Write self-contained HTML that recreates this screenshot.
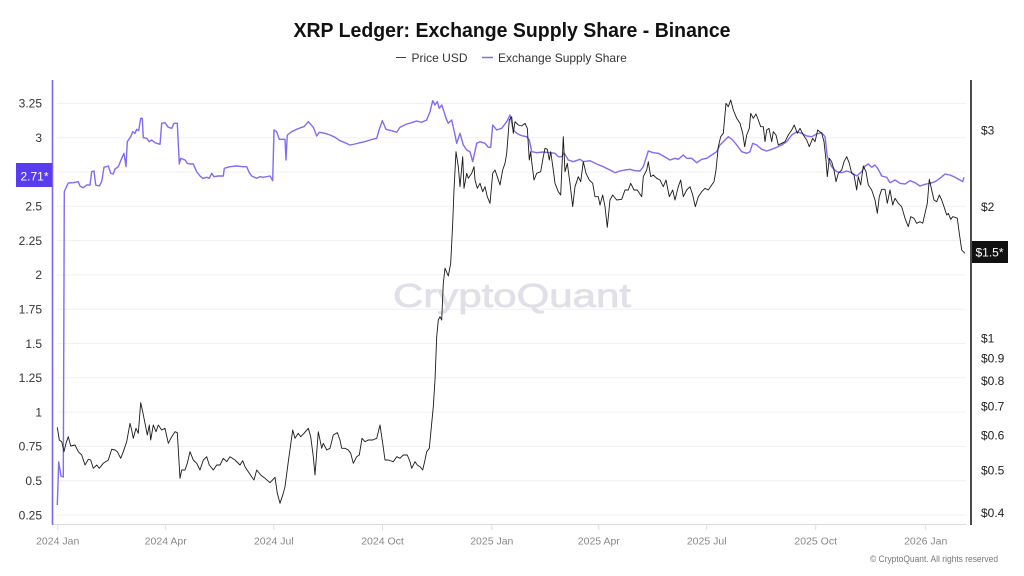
<!DOCTYPE html>
<html>
<head>
<meta charset="utf-8">
<style>
html,body{margin:0;padding:0;background:#fff;}
svg{display:block;font-family:"Liberation Sans",sans-serif;}
</style>
</head>
<body>
<svg width="1024" height="576" viewBox="0 0 1024 576" xmlns="http://www.w3.org/2000/svg">
<rect width="1024" height="576" fill="#fff"/>

<!-- title -->
<text x="512" y="37" text-anchor="middle" font-weight="bold" font-size="20" fill="#111" textLength="437" lengthAdjust="spacingAndGlyphs">XRP Ledger: Exchange Supply Share - Binance</text>

<!-- legend -->
<line x1="396" y1="57.5" x2="406" y2="57.5" stroke="#444" stroke-width="1"/>
<text x="411.5" y="62" font-size="12" fill="#333">Price USD</text>
<line x1="482" y1="57.5" x2="493" y2="57.5" stroke="#7f6df2" stroke-width="1.5"/>
<text x="498" y="62" font-size="12" fill="#333">Exchange Supply Share</text>

<!-- gridlines -->
<g stroke="#f1f1f3" stroke-width="1">
<line x1="57" y1="103.4" x2="966" y2="103.4"/>
<line x1="57" y1="137.7" x2="966" y2="137.7"/>
<line x1="57" y1="172" x2="966" y2="172"/>
<line x1="57" y1="206.3" x2="966" y2="206.3"/>
<line x1="57" y1="240.6" x2="966" y2="240.6"/>
<line x1="57" y1="274.9" x2="966" y2="274.9"/>
<line x1="57" y1="309.2" x2="966" y2="309.2"/>
<line x1="57" y1="343.5" x2="966" y2="343.5"/>
<line x1="57" y1="377.8" x2="966" y2="377.8"/>
<line x1="57" y1="412.1" x2="966" y2="412.1"/>
<line x1="57" y1="446.4" x2="966" y2="446.4"/>
<line x1="57" y1="480.7" x2="966" y2="480.7"/>
<line x1="57" y1="515" x2="966" y2="515"/>
</g>

<!-- watermark -->
<text x="512" y="307" text-anchor="middle" font-size="33" fill="#e0e0e8" stroke="#e0e0e8" stroke-width="0.7" textLength="238" lengthAdjust="spacingAndGlyphs">CryptoQuant</text>

<!-- x axis -->
<line x1="53" y1="524.5" x2="966" y2="524.5" stroke="#dcdcdc" stroke-width="1"/>
<g stroke="#dcdcdc" stroke-width="1">
<line x1="57.7" y1="524.5" x2="57.7" y2="530"/>
<line x1="165.7" y1="524.5" x2="165.7" y2="530"/>
<line x1="273.8" y1="524.5" x2="273.8" y2="530"/>
<line x1="382.5" y1="524.5" x2="382.5" y2="530"/>
<line x1="491.8" y1="524.5" x2="491.8" y2="530"/>
<line x1="598.8" y1="524.5" x2="598.8" y2="530"/>
<line x1="706.7" y1="524.5" x2="706.7" y2="530"/>
<line x1="815.7" y1="524.5" x2="815.7" y2="530"/>
<line x1="925.7" y1="524.5" x2="925.7" y2="530"/>
</g>
<g font-size="10.5" fill="#888" text-anchor="middle">
<text x="57.7" y="544.5">2024 Jan</text>
<text x="165.7" y="544.5">2024 Apr</text>
<text x="273.8" y="544.5">2024 Jul</text>
<text x="382.5" y="544.5">2024 Oct</text>
<text x="491.8" y="544.5">2025 Jan</text>
<text x="598.8" y="544.5">2025 Apr</text>
<text x="706.7" y="544.5">2025 Jul</text>
<text x="815.7" y="544.5">2025 Oct</text>
<text x="925.7" y="544.5">2026 Jan</text>
</g>

<!-- left axis -->
<line x1="52.5" y1="80" x2="52.5" y2="525" stroke="#7b68ee" stroke-width="1.6"/>
<g font-size="12" fill="#333" text-anchor="end">
<text x="42" y="107.7">3.25</text>
<text x="42" y="142">3</text>
<text x="42" y="210.6">2.5</text>
<text x="42" y="244.9">2.25</text>
<text x="42" y="279.2">2</text>
<text x="42" y="313.5">1.75</text>
<text x="42" y="347.8">1.5</text>
<text x="42" y="382.1">1.25</text>
<text x="42" y="416.4">1</text>
<text x="42" y="450.7">0.75</text>
<text x="42" y="485">0.5</text>
<text x="42" y="519.3">0.25</text>
</g>
<rect x="16" y="163" width="36" height="24" fill="#5a3cf0"/>
<text x="48.5" y="180.5" font-size="12" fill="#fff" text-anchor="end">2.71*</text>

<!-- right axis -->
<line x1="971" y1="80" x2="971" y2="525" stroke="#111" stroke-width="1.5"/>
<g font-size="12" fill="#222">
<text x="981" y="134.4">$3</text>
<text x="981" y="211">$2</text>
<text x="981" y="342.7">$1</text>
<text x="981" y="362.7">$0.9</text>
<text x="981" y="385.1">$0.8</text>
<text x="981" y="410.5">$0.7</text>
<text x="981" y="439.7">$0.6</text>
<text x="981" y="474.4">$0.5</text>
<text x="981" y="516.8">$0.4</text>
</g>
<rect x="972" y="241" width="36" height="22" fill="#111"/>
<text x="975.5" y="256.5" font-size="12" fill="#fff">$1.5*</text>

<!-- exchange supply share -->
<polyline fill="none" stroke="#7f6df2" stroke-width="1.4" stroke-linejoin="round" points="57.3,505 58.7,462 61,476 63.3,477 64.3,191.7 65,190 68.3,183 73.3,182.7 78.3,181.7 80,186 83.3,187.7 86.7,185 90,185 91.7,171.7 94,171 95.7,185 99.3,186 101.7,181.7 104,167.3 108.3,166 110.7,173.3 113.3,174 115,169 118.3,166.7 120.7,160.7 124,153.3 126,166.7 127.3,141.7 130.7,136.7 132.7,131.7 135,133.3 136.7,129.3 138.7,130.7 140.7,118.3 142.3,118.3 143.3,137.7 146.7,138.3 149.3,141.7 151.7,140 155,142.7 160,144.3 161.7,123.3 165,122.7 168.3,127.3 171.7,128.3 174,123.3 177.3,123.3 179.3,164 180.7,158.3 185,160 187.3,163.3 190,164 193.3,164 196.7,171.7 200,176 202.7,178.3 206.7,177.3 209.3,178.3 211.7,173.3 214,176.7 218.3,176 223.3,176 224.3,168.3 230,166.7 236.7,166 243.3,166.7 246.7,166.7 249.3,172.7 251.7,176 256.7,178.3 260,176.7 263.3,177.3 270,176 272.7,180.7 274,130 276.7,131.7 279.3,139.3 283.3,139.3 285,139.3 286,160 287.3,135 291.7,131.7 296.7,129.3 301.7,127.3 304,126.7 308.3,121.7 313.3,127.3 316.7,136 319.3,132.3 325,133.3 330,135 335,137.3 340,140.7 345,142.7 350,145 355,144 360,142.7 365,141.7 370,140 376.7,138.3 379.3,129.3 382.3,120.7 386,129.3 391.7,130.7 396.7,132.3 400,127.3 406.7,124 411.7,122.7 416.7,121 421.7,122.3 426.7,120 430,111.7 432.7,100.7 435,105 437.3,101.7 439.3,108.3 441.7,105 444,111.7 446,118.3 448.3,123.3 451.7,120 455,135 456.7,143.3 460,133.3 463.3,145 466.7,150 470,151.7 472.7,161.7 476.7,143.3 480,141.7 485,143.3 488.3,147.3 490.7,147.3 492.7,125 496.7,130 501.7,128.3 506.7,121.7 510,115 513.3,130 516.7,133.3 521.7,135.7 526.7,136.7 529.3,140 531.7,151.7 536.7,152.7 543.3,152 550,152.7 555,153.3 558.3,156.7 561.7,156.7 564,152.7 568.3,160 573.3,161.7 580,159.3 583.3,161.7 590,160.7 596.7,164 603.3,166.7 610,170 615,172.7 620,171 625,170 630,169.3 635,170.7 640,171 643.3,166.7 646,158.3 648.3,151 653.3,152.7 658.3,153.3 663.3,156 670,160 675,158.3 678.3,159.3 683.3,155 686.7,158.3 691.7,158.3 696.7,162.7 701.7,159.3 706.7,158.3 711.7,155 716.7,151.7 720,145 725,140 728.3,136.7 732.7,140 736.7,145 741.7,151.7 746.7,153.3 750,151.7 752.7,143.3 756.7,145 761.7,149.3 766.7,151 771.7,149.3 776.7,147.3 781.7,145 786.7,141.7 791.7,135 796.7,131.7 801.7,133.3 806.7,136 811.7,136.7 816.7,134 821.7,132.7 825,136.7 827.3,156.7 831.7,166.7 836.7,171.7 841.7,172.7 846.7,171 851.7,172.7 856.7,176 861.7,171.7 865,166 868.3,164 871.7,167.3 875,165 878.3,169.3 881.7,176 886.7,177.3 890,182.7 895,180 900,183.3 905,184 910,180.7 915,182.7 920,186 925,184.3 930,183.3 935,181.7 940,178.3 945,174 950,175 955,177.3 960,180 962.7,181.7 964,177.3"/>

<!-- price -->
<polyline fill="none" stroke="#1a1a1a" stroke-width="0.9" stroke-linejoin="round" points="57.3,427.3 59.3,440 61.7,441.7 64,451.7 66,443.3 68.3,436.7 70.7,446 75,445 78.3,451.7 81.7,455 85,465 88.3,459.3 90.7,460 93.3,468.3 96.7,465 99.3,468.3 103.3,463.3 108.3,460 111.7,449.3 115,450 117.3,451.7 120.7,458.3 123.3,451.7 126.7,441.7 130,423.3 131.7,430 133.3,438.3 136,428.3 138.3,433.3 140.7,402.7 142.7,411.7 145,423.3 147.3,435 149.3,425 150.7,440 153.3,425 156,431.7 158.3,425 161.7,430 165,428.3 168.3,443.3 171.7,436.7 175,431.7 177.3,432.7 180,478.3 181.7,470 185,470 187.3,463.3 190,451.7 193.3,460 196.7,463.3 200,470 203.3,460 206.7,456.7 209.3,465 213.3,470 216.7,465 220,465 223.3,458.3 226.7,461.7 230,456.7 235,460 240,465 242.7,460.7 245,466.7 248.3,471.7 251.7,476.7 254,480 256.7,470 260.7,475 265,478.3 270,482.7 275,477.3 277.3,493.3 280,503.3 283.3,493.3 285,486.7 288.3,461.7 292.7,430 295,438.3 298.3,433.3 300.7,436.7 304,433.3 308.3,428.3 310.7,436.7 313.3,456.7 315,475 318.3,431.7 321.7,448.3 323.3,443.3 326.7,450 330,448.3 333.3,435 337.3,432.7 340,440 341.7,448.3 345,448.3 348.3,450 350.7,453.3 353.3,463.3 356.7,456.7 359.3,455 362,438.3 365,441.7 368.3,440 372.7,440 376.7,438.3 380,425 382.7,443.3 385,460 388.3,460 393.3,461.7 396.7,456.7 400,458.3 403.3,455 407.3,455 410,461.7 411.7,468.3 415,461.7 417.3,465 420,466.7 422.7,470 425,460 426.7,451.7 429.3,448.3 431.7,423.3 433.3,406.7 435,380 436.7,336.7 438.3,320 440,316.7 441.7,320 443.3,283.3 445,268.3 448.3,276 450.7,263.3 452.7,223.3 454,190 456,151.7 458.3,166.7 460,186.7 462.7,156.7 464,188.3 466.7,173.3 468.3,178.3 471.7,173.3 474,166.7 475,180 477.3,188.3 480,183.3 482.7,191.7 485,186.7 487.3,196.7 490,203.3 492.7,173.3 495,170 497.3,176.7 500,185 502.7,170 505,163.3 506.7,153.3 509.3,120 511.7,116.7 513.3,133.3 515,121.7 518.3,125 521.7,126 525,123.3 527.3,128.3 529.3,160 530.7,151.7 531.7,161.7 534,180 536.7,173.3 540.7,171.7 543.3,156.7 545,148.3 547.3,149.3 549.3,160 550.7,151.7 553.3,170 555,183.3 558.3,191.7 560.7,195 563.3,136.7 565,171.7 567.3,163.3 570,183.3 572.7,206.7 575,186.7 578.3,176.7 580.7,181.7 583.3,161.7 586,173.3 589.3,180 592.7,183.3 595,196.7 598.3,196.7 600,205 602.7,195 605,206.7 607.3,227.3 610,200 612.7,195 616.7,200 621.7,199.3 625,190 628.3,190 630.7,183.3 634,190 637.3,190 641.7,196.7 643.3,176.7 646.7,170 648.3,161.7 650.7,176.7 653.3,175 656.7,178.3 660,180 663.3,186.7 666,180 669.3,196.7 672.7,190 675,200 678.3,186.7 680.7,180 683.3,196.7 686.7,190 690,186.7 692.7,195 695.3,206.7 698.3,196.7 701.7,191.7 705,188.3 708.3,190 711.7,185 714,181.7 716,170 718.3,146.7 720.7,136.7 723.3,133.3 726,103.3 728.3,106.7 730.7,100 733.3,110 736.7,118.3 740,123.3 742.7,133.3 744.7,146.7 746.7,135 749.3,128.3 750.7,113.3 753.3,118.3 756,114 758.3,120 760.7,126.7 763.3,126.7 765,141.7 766.7,130 769,128.3 771.7,141.7 773.3,131.7 776,135 778.3,145 781.7,143.3 785,141.7 788.3,135 791.7,130 794.3,125 797.3,133.3 800,128.3 803.3,135 806.7,140 809.3,146.7 812.7,138.3 815,141.7 817.7,130 821.7,133.3 824,141.7 826,160 827.3,176.7 829.3,158.3 831.7,161.7 834,170 836,181.7 838.3,173.3 841.7,170 844,161.7 846.7,156.7 849.3,163.3 851.7,173.3 854,175 856.7,190 858.3,176.7 860.7,185 863.3,166 866,171.7 868.3,185 871.7,190 875,200 877.3,213.3 879.3,196.7 881.7,189.3 885,189.3 887.3,203.3 890,190 892.7,205 895,198.3 898.3,203.3 901.7,206.7 905,218.3 908.3,226.7 910.7,216.7 914,218.3 916.7,223.3 920,221.7 922.7,223.3 925,213.3 927.3,203.3 929.3,179.3 931.7,190 934,200 936.7,201.7 939.3,195 941.7,200 944,206.7 946.7,215 948.3,213.3 950.7,219.3 952.7,216.7 955,217.3 957.3,218.3 959.3,233.3 961.7,250 963.3,251.7 965,253.3"/>

<!-- copyright -->
<text x="998" y="562" font-size="9.5" fill="#777" text-anchor="end" textLength="128" lengthAdjust="spacingAndGlyphs">© CryptoQuant. All rights reserved</text>
</svg>
</body>
</html>
